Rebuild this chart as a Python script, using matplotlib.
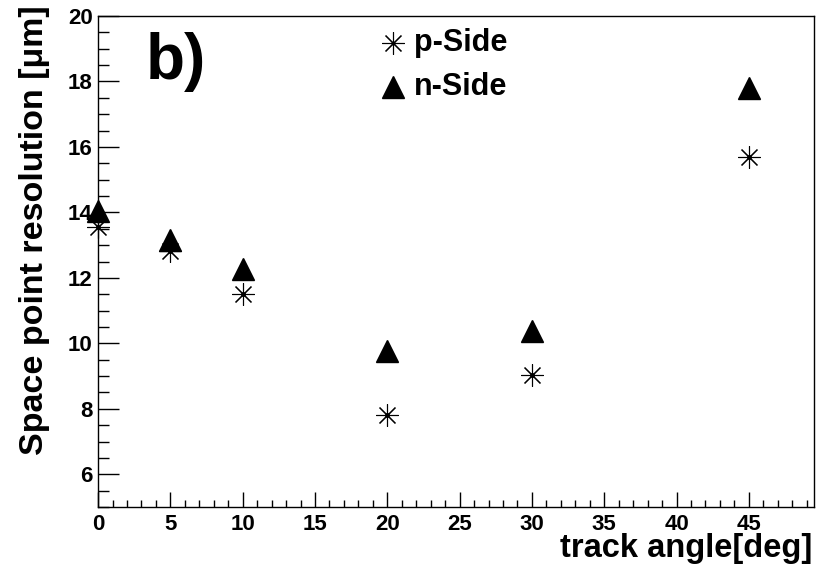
import matplotlib
matplotlib.use("Agg")
import matplotlib.pyplot as plt
from matplotlib.ticker import MultipleLocator

plt.rcParams['font.family'] = ['Liberation Sans', 'DejaVu Sans']

angles = [0, 5, 10, 20, 30, 45]
p_side = [13.56, 12.83, 11.50, 7.80, 9.02, 15.70]
n_side = [14.05, 13.16, 12.26, 9.76, 10.38, 17.79]

fig = plt.figure(figsize=(8.31, 5.67), dpi=100)
ax = fig.add_axes([0.118, 0.1058, 0.8615, 0.866])

star = (8, 2, 0)
ax.plot(angles, p_side, linestyle='none', marker=star, markersize=16,
        markeredgewidth=0.8, color='black', clip_on=False, zorder=3)
ax.plot(angles, p_side, linestyle='none', marker='o', markersize=2.5,
        color='black', clip_on=False, zorder=3)
ax.plot(angles, n_side, linestyle='none', marker='^', markersize=15.5,
        color='black', clip_on=False, zorder=3)

ax.set_xlim(0, 49.5)
ax.set_ylim(5, 20)
ax.xaxis.set_major_locator(MultipleLocator(5))
ax.xaxis.set_minor_locator(MultipleLocator(1))
ax.yaxis.set_major_locator(MultipleLocator(2))
ax.yaxis.set_minor_locator(MultipleLocator(0.5))

ax.tick_params(axis='both', which='both', direction='in', top=False, right=False,
               labelsize=16, width=1.0)
ax.tick_params(axis='y', which='major', length=15, pad=4)
ax.tick_params(axis='y', which='minor', length=8)
ax.tick_params(axis='x', which='major', length=11, pad=5)
ax.tick_params(axis='x', which='minor', length=5)
for lab in ax.get_xticklabels() + ax.get_yticklabels():
    lab.set_fontweight('bold')
for s in ax.spines.values():
    s.set_linewidth(1.0)

fig.text(0.977, 1 - 557 / 567, 'track angle[deg]', ha='right', va='baseline',
         fontsize=23.5, fontweight='bold')
fig.text(0.042, 1 - 5 / 567, 'Space point resolution [μm]', ha='center', va='top',
         rotation=90, fontsize=24.5, fontweight='bold')

ax.text(0.066, 0.968, 'b)', transform=ax.transAxes, ha='left', va='top',
        fontsize=46, fontweight='bold')

# legend
lx = 393 / 831
tf = fig.transFigure
fig.add_artist(plt.Line2D([lx], [1 - 43 / 567], marker=star, markersize=16,
                          markeredgewidth=0.8, color='black', linestyle='none',
                          transform=tf))
fig.add_artist(plt.Line2D([lx], [1 - 87 / 567], marker='^', markersize=15.5,
                          color='black', linestyle='none', transform=tf))
fig.text(414 / 831, 1 - 43 / 567, 'p-Side', ha='left', va='center',
         fontsize=22, fontweight='bold')
fig.text(414 / 831, 1 - 87 / 567, 'n-Side', ha='left', va='center',
         fontsize=22, fontweight='bold')

fig.savefig('out.png', dpi=100)
